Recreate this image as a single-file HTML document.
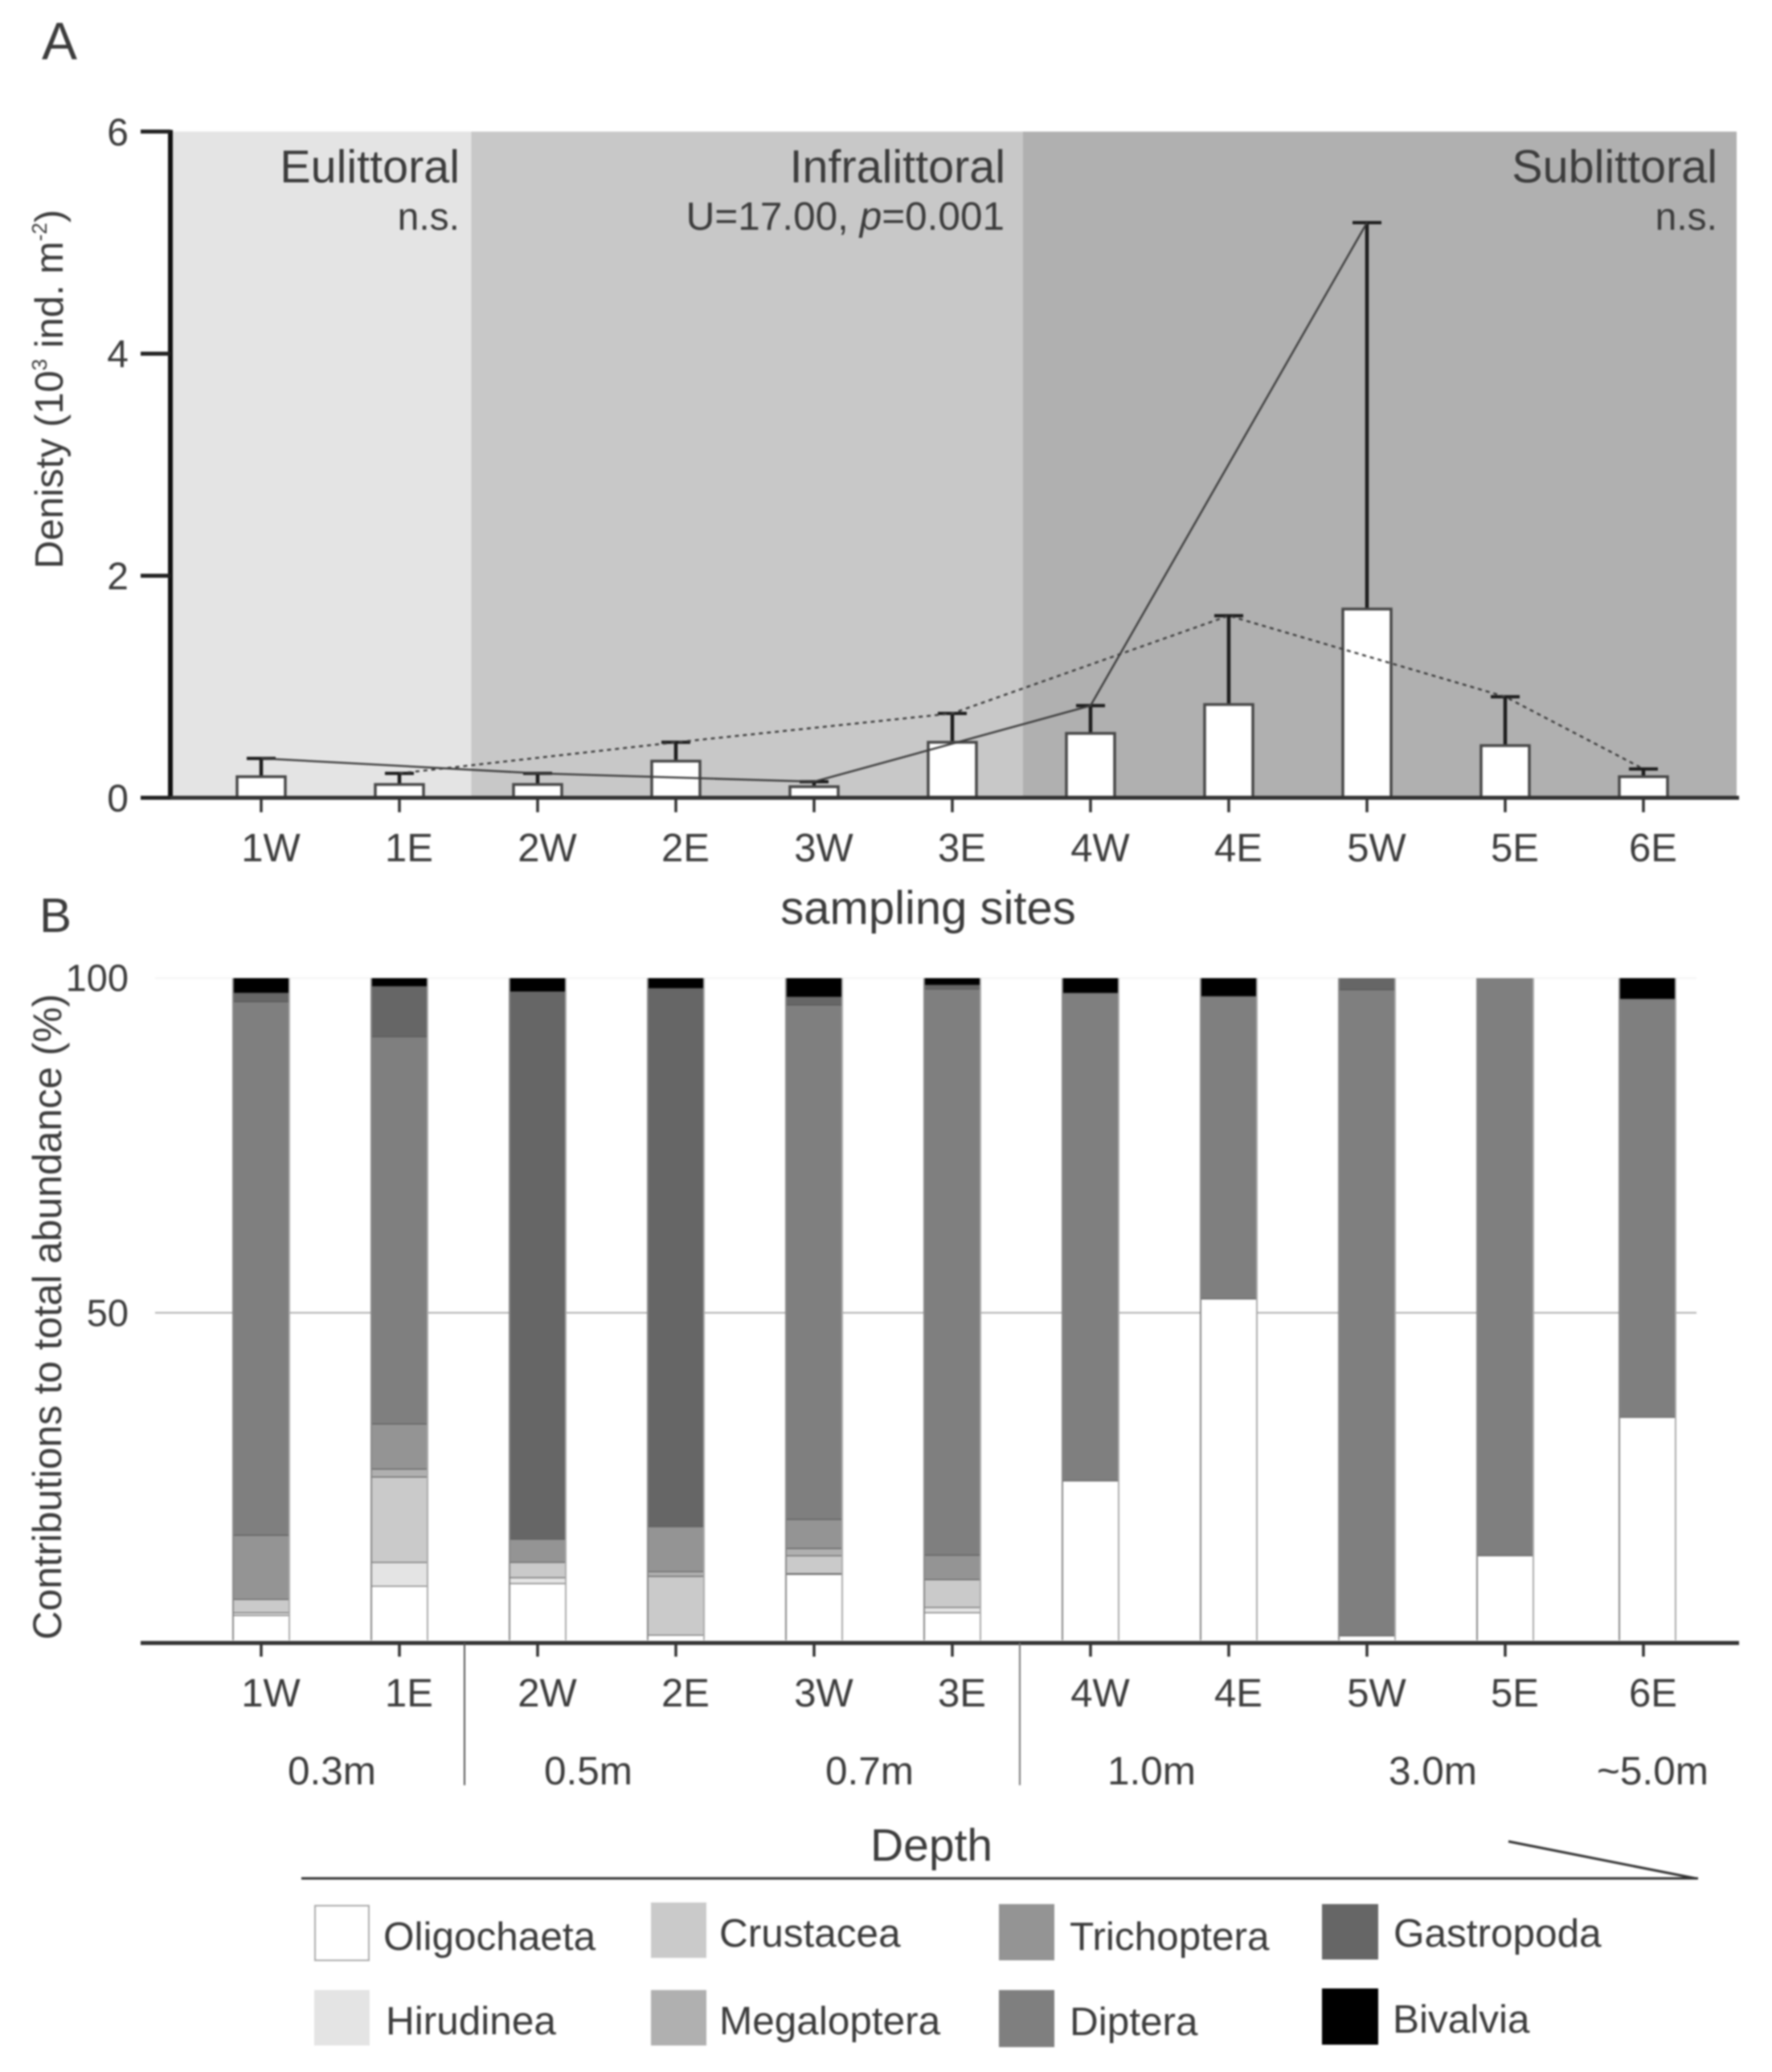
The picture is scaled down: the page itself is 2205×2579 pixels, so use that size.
<!DOCTYPE html>
<html lang="en">
<head>
<meta charset="utf-8">
<title>Density and composition by sampling site</title>
<style>
html,body{margin:0;padding:0;background:#fff;}
svg{display:block;filter:blur(1.1px);}
text{font-family:"Liberation Sans",sans-serif;fill:#3c3c3c;}
</style>
</head>
<body>
<svg id="figure" xmlns="http://www.w3.org/2000/svg" width="2205" height="2579" viewBox="0 0 2205 2579">
  <rect x="0" y="0" width="2205" height="2579" fill="#fff"/>
  <text x="52" y="74" font-size="66">A</text>
  <text x="49" y="1160" font-size="60">B</text>

  <g id="panelA"></g>

  <text x="572" y="227" font-size="57.5" text-anchor="end">Eulittoral</text>
  <text x="572" y="286" font-size="48" text-anchor="end">n.s.</text>
  <text x="1251" y="227" font-size="57.5" text-anchor="end">Infralittoral</text>
  <text x="1250" y="286" font-size="49.5" text-anchor="end">U=17.00, <tspan font-style="italic">p</tspan>=0.001</text>
  <text x="2137" y="227" font-size="57.5" text-anchor="end">Sublittoral</text>
  <text x="2137" y="286" font-size="48" text-anchor="end">n.s.</text>

  <text transform="translate(78 708) rotate(-90)" font-size="48.8">Denisty (10<tspan font-size="26" dy="-20">3</tspan><tspan dy="20"> ind. m</tspan><tspan font-size="26" dy="-20">-2</tspan><tspan dy="20">)</tspan></text>
  <text x="1155" y="1150" font-size="58" text-anchor="middle">sampling sites</text>

  <g id="panelB"></g>

  <text transform="translate(76 2041) rotate(-90)" font-size="50" textLength="804" lengthAdjust="spacingAndGlyphs">Contributions to total abundance (%)</text>

  <text x="358" y="2221" font-size="49.5">0.3m</text>
  <text x="677" y="2221" font-size="49.5">0.5m</text>
  <text x="1027" y="2221" font-size="49.5">0.7m</text>
  <text x="1378" y="2221" font-size="49.5">1.0m</text>
  <text x="1728" y="2221" font-size="49.5">3.0m</text>
  <text x="1987" y="2221" font-size="49.5">~5.0m</text>
  <line x1="578" y1="2045" x2="578" y2="2222" stroke="#555" stroke-width="2"/>
  <line x1="1269" y1="2045" x2="1269" y2="2222" stroke="#777" stroke-width="2"/>

  <text x="1083" y="2316" font-size="57">Depth</text>
  <line x1="375" y1="2338" x2="2113" y2="2338" stroke="#333" stroke-width="3"/>
  <line x1="1877" y1="2292" x2="2110" y2="2338" stroke="#333" stroke-width="3"/>

  <g>
    <rect x="392" y="2372" width="67" height="68" fill="#fff" stroke="#aaa" stroke-width="2"/>
    <text x="477" y="2427" font-size="49.5">Oligochaeta</text>
    <rect x="391" y="2477" width="69" height="69" fill="#e4e4e4"/>
    <text x="480" y="2532" font-size="49.5">Hirudinea</text>
    <rect x="810" y="2368" width="69" height="69" fill="#cacaca"/>
    <text x="895" y="2423" font-size="49.5">Crustacea</text>
    <rect x="810" y="2477" width="69" height="69" fill="#b0b0b0"/>
    <text x="895" y="2532" font-size="49.5">Megaloptera</text>
    <rect x="1243" y="2370" width="69" height="70" fill="#949494"/>
    <text x="1331" y="2427" font-size="49.5">Trichoptera</text>
    <rect x="1243" y="2477" width="69" height="71" fill="#7f7f7f"/>
    <text x="1331" y="2533" font-size="49.5">Diptera</text>
    <rect x="1645" y="2370" width="70" height="69" fill="#666"/>
    <text x="1734" y="2423" font-size="49.5">Gastropoda</text>
    <rect x="1645" y="2475" width="70" height="70" fill="#000"/>
    <text x="1733" y="2530" font-size="49.5">Bivalvia</text>
  </g>
</svg>
<script>
const sites = ["1W","1E","2W","2E","3W","3E","4W","4E","5W","5E","6E"];
const densityMeans = [0.19,0.12,0.12,0.33,0.10,0.50,0.58,0.84,1.70,0.47,0.19];
const densityErrorTops = [0.355,0.22,0.22,0.50,0.145,0.76,0.83,1.64,5.18,0.91,0.26];
const densityTicks = [0,2,4,6];
const abundanceTicks = [50,100];

const oligochaeta = [3.8,8.2,8.6,0.8,10,4.2,24.1,51.6,0.7,12.8,33.7];
const hirudinea   = [0.4,3.6,0.9,0,0.1,0.8,0,0,0,0,0];
const crustacea   = [2,12.9,2.3,8.9,2.7,4.2,0,0,0,0,0];
const megaloptera = [0,1.2,0,0.7,1.1,0,0,0,0,0,0];
const trichoptera = [9.7,6.8,3.5,6.8,4.4,3.7,0,0,0,0,0];
const diptera     = [80.6,58.5,0,0,77.7,85.5,73.7,45.7,97.6,87.2,63.2];
const gastropoda  = [1.3,7.6,82.7,81.3,1.2,0.6,0,0,1.7,0,0];
const bivalvia    = [2.2,1.2,2,1.5,2.8,1,2.2,2.7,0,0,3.1];

const seriesNames = ["oligochaeta","hirudinea","crustacea","megaloptera","trichoptera","diptera","gastropoda","bivalvia"];
const seriesValues = [oligochaeta,hirudinea,crustacea,megaloptera,trichoptera,diptera,gastropoda,bivalvia];
const seriesColors = ["#ffffff","#e4e4e4","#cacaca","#b0b0b0","#949494","#7f7f7f","#666666","#000000"];

const NS = "http://www.w3.org/2000/svg";
const xScale = i => 325 + 172 * i;
const yA = v => 993 - 138.2 * v;
const yB = v => 2041.5 - 8.24 * v;
const panelA = document.getElementById("panelA");
const panelB = document.getElementById("panelB");

function mk(parent, tag, attrs, txt) {
  const e = document.createElementNS(NS, tag);
  for (const k in attrs) e.setAttribute(k, attrs[k]);
  if (txt !== undefined) e.textContent = txt;
  parent.appendChild(e);
  return e;
}

/* zone bands */
const zoneEdges = [[212, xScale(1.52)], [xScale(1.52), xScale(5.51)], [xScale(5.51), 2161]];
const zoneFills = ["#e4e4e4","#c8c8c8","#b0b0b0"];
const zoneNames = ["eulittoral","infralittoral","sublittoral"];
zoneEdges.forEach((z, i) => {
  const r = mk(panelA, "rect", {x: z[0], y: yA(6), width: z[1] - z[0], height: yA(0) - yA(6), fill: zoneFills[i]});
  
  
});

/* density bars and error bars */
sites.forEach((s, i) => {
  const x = xScale(i);
  const stem = mk(panelA, "line", {x1: x, x2: x, y1: yA(densityMeans[i]), y2: yA(densityErrorTops[i]), stroke: "#1c1c1c", "stroke-width": 4.5});
  
  
  const cap = mk(panelA, "line", {x1: x - 18, x2: x + 18, y1: yA(densityErrorTops[i]), y2: yA(densityErrorTops[i]), stroke: "#1c1c1c", "stroke-width": 4});
  
  
  const bar = mk(panelA, "rect", {x: x - 30, y: yA(densityMeans[i]), width: 60, height: yA(0) - yA(densityMeans[i]), fill: "#fff", stroke: "#484848", "stroke-width": 3.5});
  
  
});

/* connecting lines through error-bar tops */
function sidePoints(suffix) {
  return sites.map((s, i) => s.endsWith(suffix) ? xScale(i) + "," + yA(densityErrorTops[i]) : null).filter(Boolean).join(" ");
}
const westLine = mk(panelA, "polyline", {points: sidePoints("W"), fill: "none", stroke: "#3c3c3c", "stroke-width": 2.4});


const eastLine = mk(panelA, "polyline", {points: sidePoints("E"), fill: "none", stroke: "#3c3c3c", "stroke-width": 2.4, "stroke-dasharray": "5 5"});



/* density axes */
const axisAY = mk(panelA, "line", {x1: 212, x2: 212, y1: yA(6) - 2, y2: yA(0), stroke: "#111", "stroke-width": 6});


const axisAX = mk(panelA, "line", {x1: 175, x2: 2164, y1: yA(0), y2: yA(0), stroke: "#333", "stroke-width": 5});


densityTicks.forEach(v => {
  const t = mk(panelA, "line", {x1: 175, x2: 212, y1: yA(v), y2: yA(v), stroke: "#222", "stroke-width": 5});
  
  
  const l = mk(panelA, "text", {x: 160, y: yA(v) + 17, "font-size": 48, "text-anchor": "end"}, String(v));
  
  
});
sites.forEach((s, i) => {
  const t = mk(panelA, "line", {x1: xScale(i), x2: xScale(i), y1: yA(0), y2: 1011, stroke: "#333", "stroke-width": 3.5});
  
  
  const l = mk(panelA, "text", {x: xScale(i) + 12, y: 1072, "font-size": 49, "text-anchor": "middle"}, s);
  
  
});

/* abundance gridlines */
abundanceTicks.forEach(v => {
  const g = mk(panelB, "line", {x1: 193, x2: 2111, y1: yB(v) + (v === 50 ? 4.5 : 0), y2: yB(v) + (v === 50 ? 4.5 : 0), stroke: v === 50 ? "#b0b0b0" : "#f4f4f4", "stroke-width": 2});
  
  
  const l = mk(panelB, "text", {x: 160, y: yB(v) + (v === 50 ? 21 : 16), "font-size": 47, "text-anchor": "end"}, String(v));
  
  
});

/* stacked bars */
sites.forEach((s, i) => {
  const x = xScale(i) + (s === "6E" ? 5 : 0);
  let base = 0;
  seriesValues.forEach((vals, k) => {
    const v = vals[i];
    if (v <= 0) return;
    const top = base + v;
    const seg = mk(panelB, "rect", {x: x - 35, y: yB(top), width: 70, height: yB(base) - yB(top), fill: seriesColors[k]});
    
    
    if (top < 99.9 && k < 7) {
      const edge = mk(panelB, "line", {x1: x - 35, x2: x + 35, y1: yB(top), y2: yB(top), stroke: "#555", "stroke-width": 2});
      
      
    }
    base = top;
  });
  const sideL = mk(panelB, "line", {x1: x - 35, x2: x - 35, y1: yB(100), y2: yB(0), stroke: "#888", "stroke-width": 2});
  
  
  const sideR = mk(panelB, "line", {x1: x + 35, x2: x + 35, y1: yB(100), y2: yB(0), stroke: "#aaa", "stroke-width": 2});
  
  
});

/* abundance x axis */
const axisBX = mk(panelB, "line", {x1: 175, x2: 2164, y1: 2045, y2: 2045, stroke: "#333", "stroke-width": 5});


sites.forEach((s, i) => {
  const t = mk(panelB, "line", {x1: xScale(i), x2: xScale(i), y1: 2045, y2: 2062, stroke: "#333", "stroke-width": 3.5});
  
  
  const l = mk(panelB, "text", {x: xScale(i) + 12, y: 2124, "font-size": 49, "text-anchor": "middle"}, s);
  
  
});
</script>
</body>
</html>
